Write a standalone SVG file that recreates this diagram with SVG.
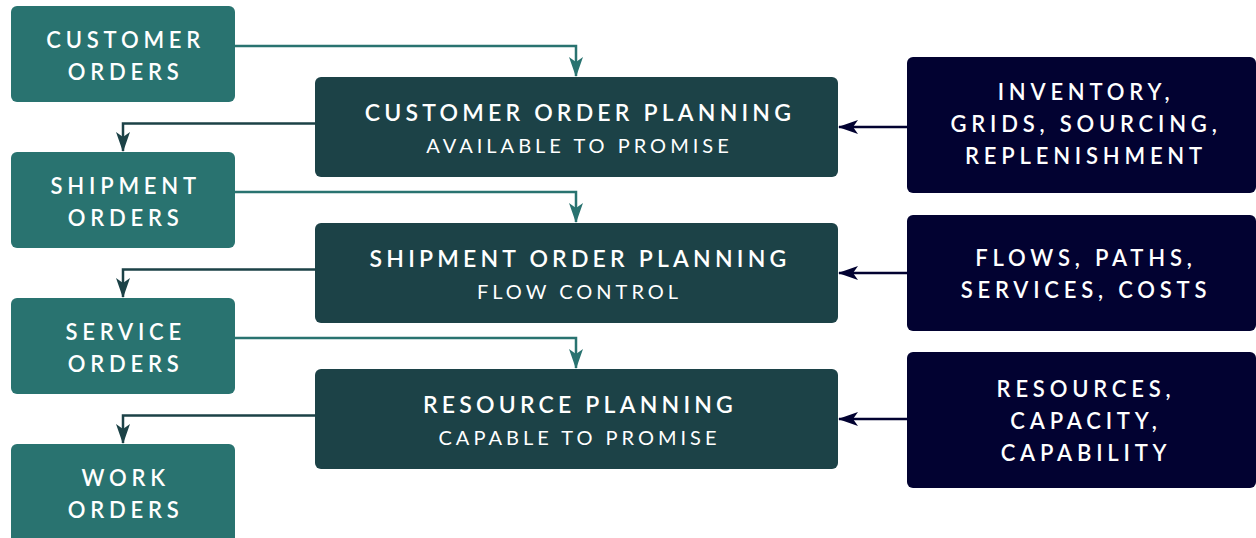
<svg xmlns="http://www.w3.org/2000/svg" width="1256" height="538" viewBox="0 0 1256 538">
<defs>
<style>
.l{fill:#297370}
.m{fill:#1c4247}
.r{fill:#020231}
text{font-family:Lato,"Noto Sans",sans-serif;fill:#ffffff;text-anchor:middle}
.t{font-size:22px;font-weight:600;letter-spacing:4.8px}
.mt{font-size:23px;font-weight:600;letter-spacing:4.2px}
.ms{font-size:20px;font-weight:400;letter-spacing:4px}
.cl{fill:none;stroke-width:2.5}
.ct{stroke:#297370}
.cm{stroke:#1c4247}
.cr{stroke:#020231}
</style>
<marker id="at" markerUnits="userSpaceOnUse" markerWidth="14" markerHeight="20" refX="7" refY="19" viewBox="0 0 14 20"><path d="M0,0 L7,5 L14,0 L7,20 Z" fill="#297370"/></marker>
<marker id="am" markerUnits="userSpaceOnUse" markerWidth="14" markerHeight="20" refX="7" refY="19" viewBox="0 0 14 20"><path d="M0,0 L7,5 L14,0 L7,20 Z" fill="#1c4247"/></marker>
<marker id="ar" markerUnits="userSpaceOnUse" markerWidth="20" markerHeight="14" refX="1" refY="7" viewBox="0 0 20 14"><path d="M20,0 L15,7 L20,14 L0,7 Z" fill="#020231"/></marker>
</defs>
<g id="connectors">
<path class="cl ct" d="M235,46 H576 V76" marker-end="url(#at)"/>
<path class="cl ct" d="M235,192 H576 V222" marker-end="url(#at)"/>
<path class="cl ct" d="M235,338 H576 V368" marker-end="url(#at)"/>
<path class="cl cm" d="M315,123.5 H123 V151" marker-end="url(#am)"/>
<path class="cl cm" d="M315,269.5 H123 V297" marker-end="url(#am)"/>
<path class="cl cm" d="M315,415.5 H123 V443" marker-end="url(#am)"/>
<path class="cl cr" d="M907,127 H839" marker-end="url(#ar)"/>
<path class="cl cr" d="M907,273 H839" marker-end="url(#ar)"/>
<path class="cl cr" d="M907,419 H839" marker-end="url(#ar)"/>
</g>
<g id="customer-orders"><rect class="l" x="11" y="6" width="224" height="96" rx="6"/><text class="t" x="125.7" y="47.5">CUSTOMER</text><text class="t" x="125.7" y="79.5">ORDERS</text></g>
<g id="shipment-orders"><rect class="l" x="11" y="152" width="224" height="96" rx="6"/><text class="t" x="125.7" y="193.5">SHIPMENT</text><text class="t" x="125.7" y="225.5">ORDERS</text></g>
<g id="service-orders"><rect class="l" x="11" y="298" width="224" height="96" rx="6"/><text class="t" x="125.7" y="339.5">SERVICE</text><text class="t" x="125.7" y="371.5">ORDERS</text></g>
<g id="work-orders"><rect class="l" x="11" y="444" width="224" height="100" rx="6"/><text class="t" x="125.7" y="485.5">WORK</text><text class="t" x="125.7" y="517.5">ORDERS</text></g>
<g id="customer-order-planning"><rect class="m" x="315" y="77" width="523" height="100" rx="6"/><text class="mt" x="580" y="121">CUSTOMER ORDER PLANNING</text><text class="ms" x="579.5" y="152.5">AVAILABLE TO PROMISE</text></g>
<g id="shipment-order-planning"><rect class="m" x="315" y="223" width="523" height="100" rx="6"/><text class="mt" x="580" y="267">SHIPMENT ORDER PLANNING</text><text class="ms" x="579.5" y="298.5">FLOW CONTROL</text></g>
<g id="resource-planning"><rect class="m" x="315" y="369" width="523" height="100" rx="6"/><text class="mt" x="580" y="413">RESOURCE PLANNING</text><text class="ms" x="579.5" y="444.5">CAPABLE TO PROMISE</text></g>
<g id="inventory"><rect class="r" x="907" y="57" width="349" height="136" rx="6"/><text class="t" x="1086" y="100">INVENTORY,</text><text class="t" x="1086" y="132">GRIDS, SOURCING,</text><text class="t" x="1086" y="164">REPLENISHMENT</text></g>
<g id="flows"><rect class="r" x="907" y="215" width="349" height="116" rx="6"/><text class="t" x="1086" y="266">FLOWS, PATHS,</text><text class="t" x="1086" y="298">SERVICES, COSTS</text></g>
<g id="resources"><rect class="r" x="907" y="352" width="349" height="136" rx="6"/><text class="t" x="1086" y="397">RESOURCES,</text><text class="t" x="1086" y="429">CAPACITY,</text><text class="t" x="1086" y="461">CAPABILITY</text></g>
</svg>
